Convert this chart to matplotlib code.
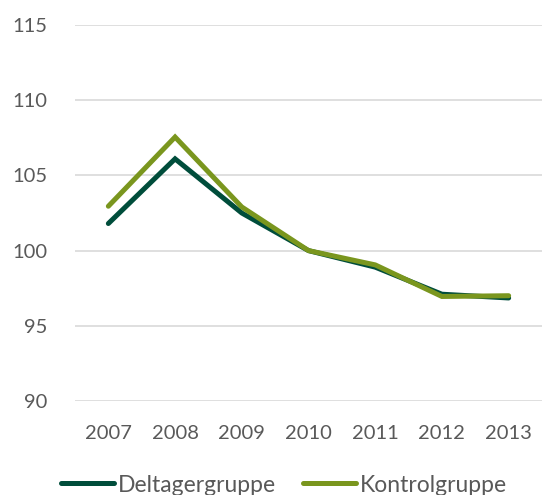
import matplotlib.pyplot as plt

years = ['2007', '2008', '2009', '2010', '2011', '2012', '2013']
deltager = [101.8, 106.1, 102.5, 100.0, 98.9, 97.1, 96.85]
kontrol = [102.95, 107.55, 102.9, 100.0, 99.05, 96.95, 97.0]

plt.rcParams['font.family'] = ['Lato', 'DejaVu Sans']

fig = plt.figure(figsize=(5.42, 4.95), dpi=100)
ax = fig.add_axes([75 / 542, 1 - 401 / 495, 467 / 542, 376 / 495])

x = range(len(years))
ax.plot(x, deltager, color='#004D3B', linewidth=3.6, solid_capstyle='round',
        solid_joinstyle='miter', label='Deltagergruppe', zorder=3)
ax.plot(x, kontrol, color='#7A961E', linewidth=3.6, solid_capstyle='round',
        solid_joinstyle='miter', label='Kontrolgruppe', zorder=3)

ax.set_xlim(-0.5, 6.5)
ax.set_ylim(90, 115)
ax.set_yticks([90, 95, 100, 105, 110, 115])
ax.set_xticks(list(x))
ax.set_xticklabels(years)
ax.grid(axis='y', color='#D9D9D9', linewidth=1.2)
ax.set_axisbelow(True)
for s in ax.spines.values():
    s.set_visible(False)
ax.tick_params(length=0, labelsize=14.5, colors='#595959')
ax.tick_params(axis='y', pad=20)
ax.tick_params(axis='x', pad=17)

ax.legend(loc='center', bbox_to_anchor=(284 / 542, 1 - 485 / 495),
          bbox_transform=fig.transFigure, ncol=2,
          frameon=False, fontsize=16.5, labelcolor='#595959',
          handlelength=2.3, handletextpad=0.15, columnspacing=1.2,
          borderaxespad=0, borderpad=0)

fig.savefig('out.png', dpi=100)
